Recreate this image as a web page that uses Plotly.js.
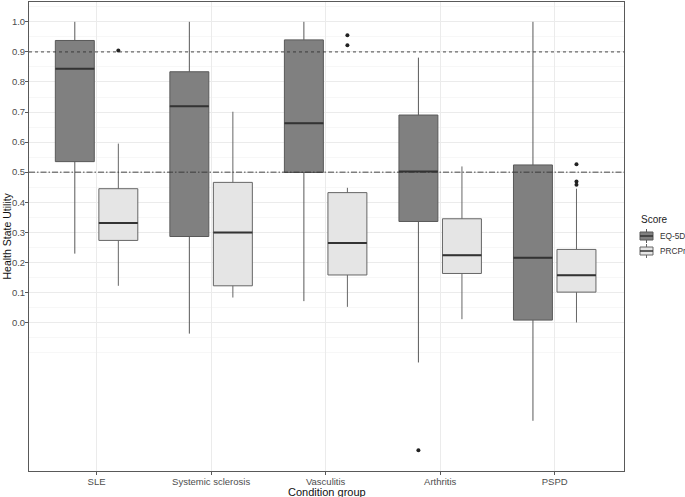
<!DOCTYPE html>
<html>
<head>
<meta charset="utf-8">
<script src="https://cdn.plot.ly/plotly-3.0.1.min.js"></script>
<style>html,body{margin:0;padding:0;background:#fff;}#chart{width:685px;height:497px;}</style>
</head>
<body>
<div id="chart"></div>
<script>
// ---- data ----
const categories = ['SLE', 'Systemic sclerosis', 'Vasculitis', 'Arthritis', 'PSPD'];

const eqUpper  = [1.000, 1.000, 1.000, 0.881, 1.000];
const eqQ3     = [0.938, 0.834, 0.940, 0.690, 0.524];
const eqMedian = [0.844, 0.719, 0.663, 0.502, 0.215];
const eqQ1     = [0.535, 0.286, 0.499, 0.336, 0.008];
const eqLower  = [0.229, -0.037, 0.071, -0.133, -0.327];
const eqOutlierCat = ['Arthritis'];
const eqOutlierVal = [-0.425];

const prUpper  = [0.595, 0.701, 0.448, 0.519, 0.445];
const prQ3     = [0.445, 0.466, 0.432, 0.345, 0.243];
const prMedian = [0.331, 0.299, 0.264, 0.224, 0.157];
const prQ1     = [0.273, 0.122, 0.158, 0.163, 0.101];
const prLower  = [0.122, 0.083, 0.052, 0.011, 0.000];
const prOutlierCat = ['SLE', 'Vasculitis', 'Vasculitis', 'PSPD', 'PSPD', 'PSPD'];
const prOutlierVal = [0.905, 0.955, 0.922, 0.526, 0.469, 0.458];

const seriesNames = ['EQ-5D', 'PRCPr'];
const legendTitle = 'Score';
const xTitle = 'Condition group';
const yTitle = 'Health State Utility';
const yTickVals = [0.0, 0.1, 0.2, 0.3, 0.4, 0.5, 0.6, 0.7, 0.8, 0.9, 1.0];
const yMinorVals = [-0.1, -0.05, 0.05, 0.15, 0.25, 0.35, 0.45, 0.55, 0.65, 0.75, 0.85, 0.95, 1.05];
const refLineHigh = 0.9;
const refLineMid = 0.5;

// ---- layout constants ----
const W = 685, H = 497;
const M = {l: 29, r: 61, t: 2, b: 26};
const PW = W - M.l - M.r, PH = H - M.t - M.b;
const px2x = px => (px - M.l) / PW;         // pixel -> paper x
const py2y = py => (H - M.b - py) / PH;     // pixel -> paper y

const BOXGAP = 0.24, GROUPGAP = 0.105;
const offset = 0.25 * (1 - BOXGAP);          // centre offset of each box in a group
const halfW = offset * (1 - GROUPGAP);       // half width of each box
const xIdx = categories.map((c, i) => i);
const idxOf = c => categories.indexOf(c);

const font = 'Liberation Sans, Arial, sans-serif';
const fills = ['#808080', '#e5e5e5'];
const lines = ['#595959', '#666666'];

function boxTrace(k, q1, med, q3, lo, hi) {
  return {
    type: 'box', name: seriesNames[k], x: xIdx,
    q1: q1, median: med, q3: q3, lowerfence: lo, upperfence: hi,
    fillcolor: fills[k], line: {color: lines[k], width: 1}, whiskerwidth: 0,
    boxpoints: false, hoverinfo: 'skip'
  };
}
function medianTrace(med, sign) {
  const xs = [], ys = [];
  med.forEach((m, i) => {
    xs.push(i + sign * offset - halfW, i + sign * offset + halfW, null);
    ys.push(m, m, null);
  });
  return {type: 'scatter', mode: 'lines', x: xs, y: ys, line: {color: '#333333', width: 2},
          showlegend: false, hoverinfo: 'skip'};
}
function outlierTrace(cats, vals, sign) {
  return {type: 'scatter', mode: 'markers',
          x: cats.map(c => idxOf(c) + sign * offset), y: vals,
          marker: {color: '#222222', size: 4}, showlegend: false, hoverinfo: 'skip'};
}

const traces = [
  boxTrace(0, eqQ1, eqMedian, eqQ3, eqLower, eqUpper),
  boxTrace(1, prQ1, prMedian, prQ3, prLower, prUpper),
  medianTrace(eqMedian, -1),
  medianTrace(prMedian, +1),
  outlierTrace(eqOutlierCat, eqOutlierVal, -1),
  outlierTrace(prOutlierCat, prOutlierVal, +1)
];

// ---- custom ggplot-style legend (keys + labels) ----
const legendShapes = [], legendAnn = [];
const keyL = 640, keyR = 653, keyMid = (keyL + keyR) / 2;
const keyY = [236, 251];
seriesNames.forEach((name, k) => {
  const cy = keyY[k];
  legendShapes.push(
    {type: 'line', xref: 'paper', yref: 'paper', x0: px2x(keyMid), x1: px2x(keyMid), y0: py2y(cy - 7), y1: py2y(cy + 7),
     line: {color: lines[k], width: 1}},
    {type: 'rect', xref: 'paper', yref: 'paper', x0: px2x(keyL), x1: px2x(keyR), y0: py2y(cy - 4), y1: py2y(cy + 4),
     fillcolor: fills[k], line: {color: lines[k], width: 1}},
    {type: 'line', xref: 'paper', yref: 'paper', x0: px2x(keyL), x1: px2x(keyR), y0: py2y(cy), y1: py2y(cy),
     line: {color: '#333', width: 1.5}}
  );
  legendAnn.push({xref: 'paper', yref: 'paper', x: px2x(658), y: py2y(cy), xanchor: 'left', yanchor: 'middle',
                  text: name, showarrow: false, font: {size: 8.3, color: '#333'}});
});
legendAnn.push({xref: 'paper', yref: 'paper', x: px2x(638.5), y: py2y(219), xanchor: 'left', yanchor: 'middle',
                text: legendTitle, showarrow: false, font: {size: 10, color: '#222'}});
// axis titles
legendAnn.push({xref: 'paper', yref: 'paper', x: 0.5, y: py2y(491.5), xanchor: 'center', yanchor: 'middle',
                text: xTitle, showarrow: false, font: {size: 11, color: '#111'}});
legendAnn.push({xref: 'paper', yref: 'paper', x: px2x(6), y: 0.5, xanchor: 'center', yanchor: 'middle',
                textangle: -90, text: yTitle, showarrow: false, font: {size: 10.5, color: '#111'}});

const layout = {
  width: W, height: H,
  margin: {l: M.l, r: M.r, t: M.t, b: M.b, autoexpand: false},
  paper_bgcolor: '#ffffff', plot_bgcolor: '#ffffff',
  font: {family: font, color: '#4d4d4d', size: 9.5},
  boxmode: 'group', boxgap: BOXGAP, boxgroupgap: GROUPGAP,
  showlegend: false,
  xaxis: {
    type: 'linear', range: [-0.59, 4.605],
    tickmode: 'array', tickvals: xIdx, ticktext: categories,
    showgrid: true, gridcolor: '#ebebeb', gridwidth: 1, zeroline: false,
    showline: true, mirror: true, linecolor: '#595959', linewidth: 1,
    ticks: 'outside', ticklen: 3, tickcolor: '#595959', ticklabelstandoff: -1,
    tickfont: {size: 9.5, color: '#4d4d4d'},
    automargin: false
  },
  yaxis: {
    range: [-0.494, 1.066],
    tickmode: 'array', tickvals: yTickVals, ticktext: yTickVals.map(v => v.toFixed(1)),
    showgrid: true, gridcolor: '#ebebeb', gridwidth: 1, zeroline: false,
    minor: {tickmode: 'array', tickvals: yMinorVals, showgrid: true, gridcolor: '#f2f2f2', gridwidth: 0.6, ticks: ''},
    showline: true, mirror: true, linecolor: '#595959', linewidth: 1,
    ticks: 'outside', ticklen: 3, tickcolor: '#595959', ticklabelstandoff: -2,
    tickfont: {size: 9.5, color: '#4d4d4d'},
    automargin: false
  },
  shapes: [
    {type: 'line', xref: 'paper', x0: 0, x1: 1, yref: 'y', y0: refLineHigh, y1: refLineHigh,
     line: {color: '#333', width: 0.9, dash: '3px,3px'}},
    {type: 'line', xref: 'paper', x0: 0, x1: 1, yref: 'y', y0: refLineMid, y1: refLineMid,
     line: {color: '#333', width: 0.9, dash: '6px,2px,1.5px,2px'}}
  ].concat(legendShapes),
  annotations: legendAnn
};

Plotly.newPlot('chart', traces, layout, {displayModeBar: false, staticPlot: true});
</script>
</body>
</html>
